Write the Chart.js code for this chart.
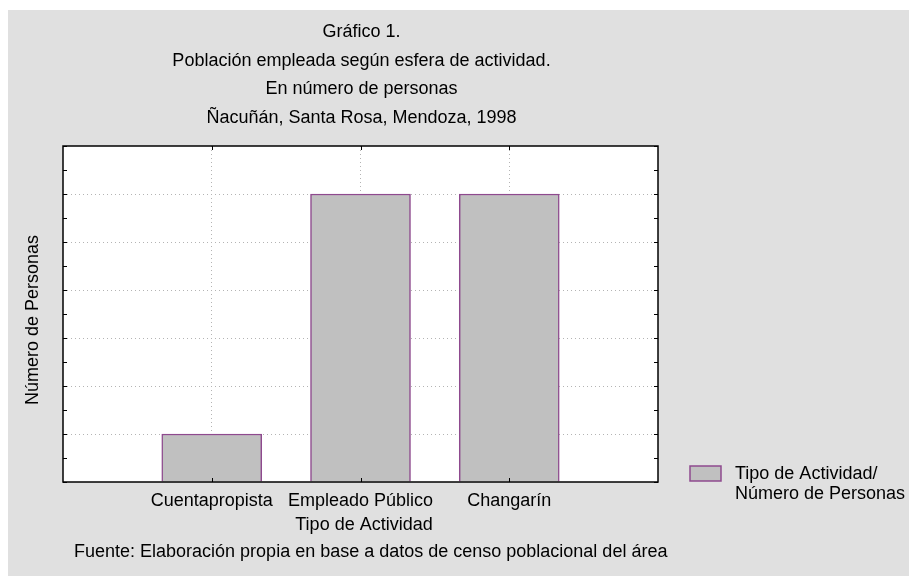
<!DOCTYPE html>
<html>
<head>
<meta charset="utf-8">
<script src="https://cdn.jsdelivr.net/npm/chart.js@4.4.1/dist/chart.umd.min.js"></script>
<style>
  html, body { margin: 0; padding: 0; background: #ffffff; }
</style>
</head>
<body>
<canvas id="grafico" width="909" height="576"></canvas>
<script>
// datos del grafico
const categorias = ["Cuentapropista", "Empleado Público", "Changarín"];
const personas = [1, 6, 6];
const yMin = 0;
const yMax = 7;
const yPaso = 1;

const titulo = [
  "Gráfico 1.",
  "Población empleada según esfera de actividad.",
  "En número de personas",
  "Ñacuñán, Santa Rosa, Mendoza, 1998"
];
const tituloEjeX = "Tipo de Actividad";
const tituloEjeY = "Número de Personas";
const leyenda = ["Tipo de Actividad/", "Número de Personas"];
const fuente = "Fuente: Elaboración propia en base a datos de censo poblacional del área";

const FUENTE = "'Liberation Sans', Arial, sans-serif";
const gris = "#e0e0e0";
const relleno = "#c0c0c0";
const borde = "#8e4a8e";

// etiquetas vacias a los costados para dejar el espacio de la grilla
const etiquetas = [""].concat(categorias, [""]);
const valores = [null].concat(personas, [null]);

const marco = {
  id: "marco",
  beforeDraw(chart) {
    const ctx = chart.ctx;
    ctx.save();
    ctx.fillStyle = "#ffffff";
    ctx.fillRect(0, 0, chart.width, chart.height);
    ctx.fillStyle = gris;
    ctx.fillRect(8, 10, chart.width - 8, chart.height - 10);
    const a = chart.chartArea;
    ctx.fillStyle = "#ffffff";
    ctx.fillRect(a.left, a.top, a.right - a.left, a.bottom - a.top);
    ctx.restore();
  },
  afterDraw(chart) {
    const ctx = chart.ctx;
    const a = chart.chartArea;
    const x = chart.scales.x;
    const y = chart.scales.y;
    ctx.save();
    ctx.strokeStyle = "#000000";
    ctx.lineWidth = 1.5;
    ctx.strokeRect(a.left, a.top, a.right - a.left, a.bottom - a.top);

    // marcas hacia adentro
    ctx.lineWidth = 1;
    ctx.beginPath();
    for (let v = yMin; v <= yMax; v += yPaso / 2) {
      const py = Math.round(y.getPixelForValue(v)) + 0.5;
      ctx.moveTo(a.left, py); ctx.lineTo(a.left + 4, py);
      ctx.moveTo(a.right, py); ctx.lineTo(a.right - 4, py);
    }
    for (let i = 1; i <= categorias.length; i++) {
      const px = Math.round(x.getPixelForValue(i)) + 0.5;
      ctx.moveTo(px, a.bottom); ctx.lineTo(px, a.bottom - 4);
      ctx.moveTo(px, a.top); ctx.lineTo(px, a.top + 4);
    }
    ctx.stroke();

    // titulos
    ctx.fillStyle = "#000000";
    ctx.font = "18px " + FUENTE;
    ctx.textAlign = "center";
    ctx.textBaseline = "alphabetic";
    titulo.forEach((linea, i) => {
      ctx.fillText(linea, 361.5, 37 + i * 28.7);
    });
    ctx.fillText(tituloEjeX, 364, 530);
    ctx.textAlign = "left";
    ctx.fillText(fuente, 74, 557);

    ctx.save();
    ctx.translate(38, 320);
    ctx.rotate(-Math.PI / 2);
    ctx.textAlign = "center";
    ctx.fillText(tituloEjeY, 0, 0);
    ctx.restore();

    // leyenda
    ctx.fillStyle = relleno;
    ctx.fillRect(690, 466, 31, 15);
    ctx.strokeStyle = borde;
    ctx.lineWidth = 1.5;
    ctx.strokeRect(690, 466, 31, 15);
    ctx.fillStyle = "#000000";
    ctx.textAlign = "left";
    ctx.fillText(leyenda[0], 735, 479);
    ctx.fillText(leyenda[1], 735, 499);
    ctx.restore();
  }
};

new Chart(document.getElementById("grafico"), {
  type: "bar",
  data: {
    labels: etiquetas,
    datasets: [{
      label: leyenda.join(" "),
      data: valores,
      backgroundColor: relleno,
      borderColor: borde,
      borderWidth: 1.5,
      barThickness: 100
    }]
  },
  options: {
    responsive: false,
    animation: false,
    events: [],
    layout: { padding: { top: 146, right: 251, left: 0, bottom: 0 } },
    plugins: {
      legend: { display: false },
      title: { display: false },
      tooltip: { enabled: false }
    },
    scales: {
      x: {
        offset: false,
        afterFit(scale) { scale.height = 94; },
        grid: {
          offset: false,
          drawTicks: false,
          color: c => (c.index === 0 || c.index === etiquetas.length - 1) ? "transparent" : "#b4b4b4",
          lineWidth: 1
        },
        border: { display: false, dash: [1, 3] },
        ticks: {
          color: "#000000",
          font: { family: FUENTE, size: 18 },
          padding: 8,
          autoSkip: false,
          maxRotation: 0
        }
      },
      y: {
        min: yMin,
        max: yMax,
        afterFit(scale) { scale.width = 63; },
        grid: {
          drawTicks: false,
          color: c => (c.tick && (c.tick.value === yMin || c.tick.value === yMax)) ? "transparent" : "#b4b4b4",
          lineWidth: 1
        },
        border: { display: false, dash: [1, 3] },
        ticks: { display: false, stepSize: yPaso }
      }
    }
  },
  plugins: [marco]
});
</script>
</body>
</html>
